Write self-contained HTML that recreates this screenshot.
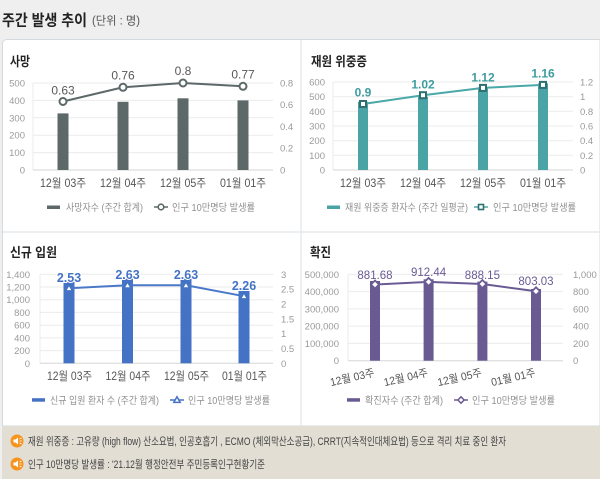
<!DOCTYPE html>
<html><head><meta charset="utf-8">
<style>
html,body{margin:0;padding:0;background:#efefef;}
body{width:600px;height:479px;overflow:hidden;}
svg{display:block;font-family:"Liberation Sans","Noto Sans CJK KR",sans-serif;}
.tk{font-size:9.5px;fill:#9a9a9a;}
.xl{font-size:11.5px;fill:#555;}
.lg{font-size:10px;fill:#909090;}
.tt{font-size:13px;font-weight:bold;fill:#222;}
.grid{stroke:#ebebeb;stroke-width:1;}
.base{stroke:#d6d6d6;stroke-width:1;}
</style></head>
<body>
<svg width="600" height="479" viewBox="0 0 600 479" xmlns="http://www.w3.org/2000/svg">
<rect x="0" y="0" width="600" height="479" fill="#efefef"/>
<!-- header -->
<text x="2" y="25.5" font-size="15.5" font-weight="bold" fill="#222" textLength="85" lengthAdjust="spacingAndGlyphs">주간 발생 추이</text>
<text x="92" y="24.5" font-size="11.5" fill="#555" textLength="48" lengthAdjust="spacingAndGlyphs">(단위 : 명)</text>
<!-- panel container -->
<path d="M2.5 426 V44 Q2.5 39.5 7 39.5 H600 V426 Z" fill="#fff" stroke="#d3dbe1" stroke-width="1"/>
<line x1="301" y1="40" x2="301" y2="426" stroke="#dfe5ea" stroke-width="1.2"/>
<line x1="3" y1="232" x2="600" y2="232" stroke="#dfe5ea" stroke-width="1.2"/>
<!-- footer -->
<rect x="2" y="426" width="598" height="53" fill="#e3ded4"/>
<circle cx="17" cy="441" r="6.5" fill="#f7941d"/>
<path d="M13.5 439.5h2l2.5-2v7l-2.5-2h-2z" fill="#fff"/>
<path d="M19.5 439 l2 -1 M19.5 441 h2.2 M19.5 443 l2 1" stroke="#fff" stroke-width="0.8"/>
<circle cx="17" cy="464" r="6.5" fill="#f7941d"/>
<path d="M13.5 462.5h2l2.5-2v7l-2.5-2h-2z" fill="#fff"/>
<path d="M19.5 462 l2 -1 M19.5 464 h2.2 M19.5 466 l2 1" stroke="#fff" stroke-width="0.8"/>
<text x="28" y="445" font-size="11" fill="#444" textLength="478" lengthAdjust="spacingAndGlyphs">재원 위중증 : 고유량 (high flow) 산소요법, 인공호흡기 , ECMO (체외막산소공급), CRRT(지속적인대체요법) 등으로 격리 치료 중인 환자</text>
<text x="28" y="468" font-size="11" fill="#444" textLength="237" lengthAdjust="spacingAndGlyphs">인구 10만명당 발생률 : '21.12월 행정안전부 주민등록인구현황기준</text>

<!-- ============ Panel 1: 사망 ============ -->
<text class="tt" x="10" y="66" textLength="20" lengthAdjust="spacingAndGlyphs">사망</text>
<g>
<line class="grid" x1="33" y1="83" x2="273" y2="83"/>
<line class="grid" x1="33" y1="100.4" x2="273" y2="100.4"/>
<line class="grid" x1="33" y1="117.8" x2="273" y2="117.8"/>
<line class="grid" x1="33" y1="135.2" x2="273" y2="135.2"/>
<line class="grid" x1="33" y1="152.6" x2="273" y2="152.6"/>
<line class="grid" x1="33" y1="83" x2="33" y2="170"/>
<line class="base" x1="33" y1="170" x2="273" y2="170"/>
</g>
<g class="tk" text-anchor="end">
<text x="25" y="86.5">500</text><text x="25" y="103.9">400</text><text x="25" y="121.3">300</text>
<text x="25" y="138.7">200</text><text x="25" y="156.1">100</text><text x="25" y="173.5">0</text>
</g>
<g class="tk">
<text x="280" y="86.5">0.8</text><text x="280" y="108.2">0.6</text><text x="280" y="130">0.4</text>
<text x="280" y="151.7">0.2</text><text x="280" y="173.5">0</text>
</g>
<g fill="#5d6868">
<rect x="57.5" y="113.4" width="11" height="56.6"/>
<rect x="117.5" y="101.8" width="11" height="68.2"/>
<rect x="177.5" y="98.3" width="11" height="71.7"/>
<rect x="237.5" y="100.4" width="11" height="69.6"/>
</g>
<polyline points="63,101.5 123,87.3 183,83 243,86.3" fill="none" stroke="#5d6868" stroke-width="2"/>
<g fill="#fff" stroke="#5d6868" stroke-width="2">
<circle cx="63" cy="101.5" r="3.5"/><circle cx="123" cy="87.3" r="3.5"/>
<circle cx="183" cy="83" r="3.5"/><circle cx="243" cy="86.3" r="3.5"/>
</g>
<g font-size="12" fill="#595959" text-anchor="middle">
<text x="63" y="94.5">0.63</text><text x="123" y="79.5">0.76</text>
<text x="183" y="75">0.8</text><text x="243" y="78.5">0.77</text>
</g>
<g class="xl" text-anchor="middle">
<text x="63" y="187" textLength="46" lengthAdjust="spacingAndGlyphs">12월 03주</text>
<text x="123" y="187" textLength="46" lengthAdjust="spacingAndGlyphs">12월 04주</text>
<text x="183" y="187" textLength="46" lengthAdjust="spacingAndGlyphs">12월 05주</text>
<text x="243" y="187" textLength="46" lengthAdjust="spacingAndGlyphs">01월 01주</text>
</g>
<rect x="47" y="205.5" width="13" height="3.5" fill="#5d6868"/>
<text class="lg" x="66" y="211" textLength="77" lengthAdjust="spacingAndGlyphs">사망자수 (주간 합계)</text>
<line x1="154" y1="207" x2="168" y2="207" stroke="#5d6868" stroke-width="1.5"/>
<circle cx="161" cy="207" r="2.8" fill="#fff" stroke="#5d6868" stroke-width="1.6"/>
<text class="lg" x="172" y="211" textLength="83" lengthAdjust="spacingAndGlyphs">인구 10만명당 발생률</text>

<!-- ============ Panel 2: 재원 위중증 ============ -->
<text class="tt" x="311" y="66" textLength="56" lengthAdjust="spacingAndGlyphs">재원 위중증</text>
<g>
<line class="grid" x1="333" y1="82" x2="573" y2="82"/>
<line class="grid" x1="333" y1="96.7" x2="573" y2="96.7"/>
<line class="grid" x1="333" y1="111.3" x2="573" y2="111.3"/>
<line class="grid" x1="333" y1="126" x2="573" y2="126"/>
<line class="grid" x1="333" y1="140.7" x2="573" y2="140.7"/>
<line class="grid" x1="333" y1="155.3" x2="573" y2="155.3"/>
<line class="grid" x1="333" y1="82" x2="333" y2="170"/>
<line class="base" x1="333" y1="170" x2="573" y2="170"/>
</g>
<g class="tk" text-anchor="end">
<text x="325" y="85.5">600</text><text x="325" y="100.2">500</text><text x="325" y="114.8">400</text>
<text x="325" y="129.5">300</text><text x="325" y="144.2">200</text><text x="325" y="158.8">100</text><text x="325" y="173.5">0</text>
</g>
<g class="tk">
<text x="580" y="85.5">1.2</text><text x="580" y="100.2">1</text><text x="580" y="114.8">0.8</text>
<text x="580" y="129.5">0.6</text><text x="580" y="144.2">0.4</text><text x="580" y="158.8">0.2</text><text x="580" y="173.5">0</text>
</g>
<g fill="#4aa3a4">
<rect x="358" y="101.7" width="10" height="68.3"/>
<rect x="418" y="96.7" width="10" height="73.3"/>
<rect x="478" y="87.3" width="10" height="82.7"/>
<rect x="538" y="83.3" width="10" height="86.7"/>
</g>
<polyline points="363,104 423,95.2 483,87.9 543,84.9" fill="none" stroke="#4aa8a8" stroke-width="2"/>
<g fill="#fff" stroke="#2f6f70" stroke-width="2">
<rect x="360" y="101" width="6" height="6"/><rect x="420" y="92.2" width="6" height="6"/>
<rect x="480" y="84.9" width="6" height="6"/><rect x="540" y="81.9" width="6" height="6"/>
</g>
<g font-size="12" font-weight="bold" fill="#3d9c9e" text-anchor="middle">
<text x="363" y="96.5">0.9</text><text x="423" y="88.5">1.02</text>
<text x="483" y="81.5">1.12</text><text x="543" y="77.5">1.16</text>
</g>
<g class="xl" text-anchor="middle">
<text x="363" y="187" textLength="46" lengthAdjust="spacingAndGlyphs">12월 03주</text>
<text x="423" y="187" textLength="46" lengthAdjust="spacingAndGlyphs">12월 04주</text>
<text x="483" y="187" textLength="46" lengthAdjust="spacingAndGlyphs">12월 05주</text>
<text x="543" y="187" textLength="46" lengthAdjust="spacingAndGlyphs">01월 01주</text>
</g>
<rect x="327" y="205.5" width="13" height="3.5" fill="#4aa3a4"/>
<text class="lg" x="345" y="211" textLength="123" lengthAdjust="spacingAndGlyphs">재원 위중증 환자수 (주간 일평균)</text>
<line x1="474" y1="207" x2="488" y2="207" stroke="#4aa8a8" stroke-width="1.5"/>
<rect x="478.5" y="204.5" width="5" height="5" fill="#fff" stroke="#2f6f70" stroke-width="1.6"/>
<text class="lg" x="493" y="211" textLength="83" lengthAdjust="spacingAndGlyphs">인구 10만명당 발생률</text>

<!-- ============ Panel 3: 신규 입원 ============ -->
<text class="tt" x="10" y="257" textLength="47" lengthAdjust="spacingAndGlyphs">신규 입원</text>
<g>
<line class="grid" x1="40" y1="274.3" x2="273" y2="274.3"/>
<line class="grid" x1="40" y1="287" x2="273" y2="287"/>
<line class="grid" x1="40" y1="299.7" x2="273" y2="299.7"/>
<line class="grid" x1="40" y1="312.4" x2="273" y2="312.4"/>
<line class="grid" x1="40" y1="325.2" x2="273" y2="325.2"/>
<line class="grid" x1="40" y1="337.9" x2="273" y2="337.9"/>
<line class="grid" x1="40" y1="350.6" x2="273" y2="350.6"/>
<line class="grid" x1="40" y1="274.3" x2="40" y2="363.3"/>
<line class="base" x1="40" y1="363.3" x2="273" y2="363.3"/>
</g>
<g class="tk" text-anchor="end">
<text x="30" y="277.8">1,400</text><text x="30" y="290.5">1,200</text><text x="30" y="303.2">1,000</text>
<text x="30" y="315.9">800</text><text x="30" y="328.7">600</text><text x="30" y="341.4">400</text>
<text x="30" y="354.1">200</text><text x="30" y="366.8">0</text>
</g>
<g class="tk">
<text x="281" y="277.8">3</text><text x="281" y="292.6">2.5</text><text x="281" y="307.4">2</text>
<text x="281" y="322.3">1.5</text><text x="281" y="337.1">1</text><text x="281" y="352">0.5</text><text x="281" y="366.8">0</text>
</g>
<g fill="#4472c4">
<rect x="63.5" y="282" width="11" height="81.3"/>
<rect x="122" y="278.7" width="11" height="84.6"/>
<rect x="180.5" y="278.7" width="11" height="84.6"/>
<rect x="238.5" y="290" width="11" height="73.3"/>
</g>
<polyline points="69,288.2 127.5,285.3 186,285.3 244,296.2" fill="none" stroke="#4a78c8" stroke-width="2"/>
<g fill="#fff" stroke="#4472c4" stroke-width="1.6">
<path d="M69 284.7 L72.6 290.9 L65.4 290.9 Z"/>
<path d="M127.5 281.8 L131.1 288 L123.9 288 Z"/>
<path d="M186 281.8 L189.6 288 L182.4 288 Z"/>
<path d="M244 292.7 L247.6 298.9 L240.4 298.9 Z"/>
</g>
<g font-size="12.5" font-weight="bold" fill="#4472c4" text-anchor="middle" stroke="#fff" stroke-width="2" paint-order="stroke" stroke-linejoin="round">
<text x="69" y="281.8">2.53</text><text x="127.5" y="278.8">2.63</text>
<text x="186" y="278.8">2.63</text><text x="244" y="289.8">2.26</text>
</g>
<g class="xl" text-anchor="middle">
<text x="69.5" y="380" textLength="45" lengthAdjust="spacingAndGlyphs">12월 03주</text>
<text x="128" y="380" textLength="45" lengthAdjust="spacingAndGlyphs">12월 04주</text>
<text x="186.5" y="380" textLength="45" lengthAdjust="spacingAndGlyphs">12월 05주</text>
<text x="244.5" y="380" textLength="45" lengthAdjust="spacingAndGlyphs">01월 01주</text>
</g>
<rect x="32" y="398.2" width="13" height="3.5" fill="#4472c4"/>
<text class="lg" x="50" y="404" textLength="109" lengthAdjust="spacingAndGlyphs">신규 입원 환자 수 (주간 합계)</text>
<line x1="170" y1="400" x2="184" y2="400" stroke="#4472c4" stroke-width="1.5"/>
<path d="M177 396.8 L180.2 402.4 L173.8 402.4 Z" fill="#fff" stroke="#4472c4" stroke-width="1.5"/>
<text class="lg" x="188" y="404" textLength="82" lengthAdjust="spacingAndGlyphs">인구 10만명당 발생률</text>

<!-- ============ Panel 4: 확진 ============ -->
<text class="tt" x="310" y="257" textLength="21" lengthAdjust="spacingAndGlyphs">확진</text>
<g>
<line class="grid" x1="348" y1="274.3" x2="563" y2="274.3"/>
<line class="grid" x1="348" y1="291.6" x2="563" y2="291.6"/>
<line class="grid" x1="348" y1="308.9" x2="563" y2="308.9"/>
<line class="grid" x1="348" y1="326.1" x2="563" y2="326.1"/>
<line class="grid" x1="348" y1="343.4" x2="563" y2="343.4"/>
<line class="grid" x1="348" y1="274.3" x2="348" y2="360.7"/>
<line class="base" x1="348" y1="360.7" x2="563" y2="360.7"/>
</g>
<g class="tk" text-anchor="end">
<text x="339" y="277.8">500,000</text><text x="339" y="295.1">400,000</text><text x="339" y="312.4">300,000</text>
<text x="339" y="329.6">200,000</text><text x="339" y="346.9">100,000</text><text x="339" y="364.2">0</text>
</g>
<g class="tk">
<text x="573" y="277.8">1,000</text><text x="573" y="295.1">800</text><text x="573" y="312.4">600</text>
<text x="573" y="329.6">400</text><text x="573" y="346.9">200</text><text x="573" y="364.2">0</text>
</g>
<g fill="#6a5a92">
<rect x="370" y="281" width="10" height="79.7"/>
<rect x="423.6" y="279.3" width="10" height="81.4"/>
<rect x="477.4" y="281.6" width="10" height="79.1"/>
<rect x="531" y="289" width="10" height="71.7"/>
</g>
<polyline points="375,284.5 428.6,281.9 482.4,284 536,291.3" fill="none" stroke="#6b5b95" stroke-width="2"/>
<g fill="#fff" stroke="#6b5b95" stroke-width="1.8">
<path d="M375 280.5 L379 284.5 L375 288.5 L371 284.5 Z"/>
<path d="M428.6 277.9 L432.6 281.9 L428.6 285.9 L424.6 281.9 Z"/>
<path d="M482.4 280 L486.4 284 L482.4 288 L478.4 284 Z"/>
<path d="M536 287.3 L540 291.3 L536 295.3 L532 291.3 Z"/>
</g>
<g font-size="11.5" fill="#6b5b95" text-anchor="middle">
<text x="375" y="278.8">881.68</text><text x="428.6" y="276.2">912.44</text>
<text x="482.4" y="278.8">888.15</text><text x="536" y="285.2">803.03</text>
</g>
<g font-size="11" fill="#555" text-anchor="end">
<text transform="translate(375,376) rotate(-13)" textLength="45" lengthAdjust="spacingAndGlyphs">12월 03주</text>
<text transform="translate(428.6,376) rotate(-13)" textLength="45" lengthAdjust="spacingAndGlyphs">12월 04주</text>
<text transform="translate(482.4,376) rotate(-13)" textLength="45" lengthAdjust="spacingAndGlyphs">12월 05주</text>
<text transform="translate(536,376) rotate(-13)" textLength="45" lengthAdjust="spacingAndGlyphs">01월 01주</text>
</g>
<rect x="347" y="398.2" width="13" height="3.5" fill="#6a5a92"/>
<text class="lg" x="365" y="404" textLength="78" lengthAdjust="spacingAndGlyphs">확진자수 (주간 합계)</text>
<line x1="454" y1="400" x2="468" y2="400" stroke="#6b5b95" stroke-width="1.5"/>
<path d="M461 396.8 L464.2 400 L461 403.2 L457.8 400 Z" fill="#fff" stroke="#6b5b95" stroke-width="1.5"/>
<text class="lg" x="472" y="404" textLength="83" lengthAdjust="spacingAndGlyphs">인구 10만명당 발생률</text>
</svg>
</body></html>
